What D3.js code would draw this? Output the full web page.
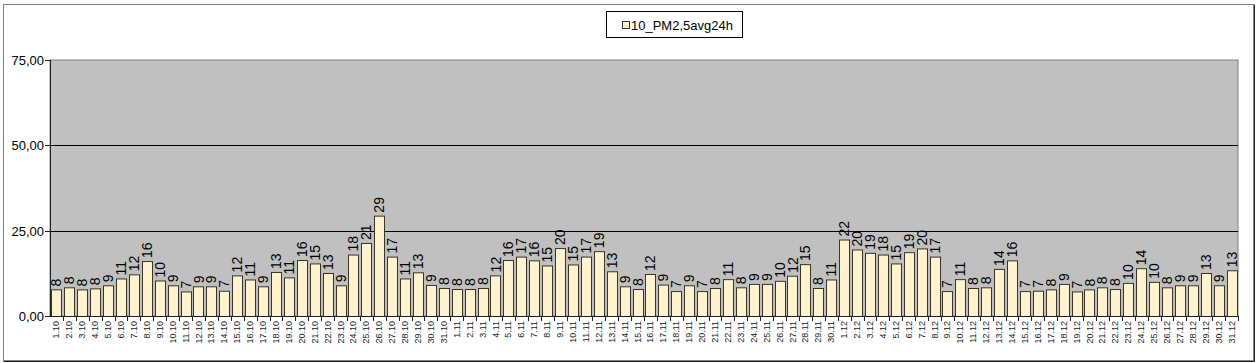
<!DOCTYPE html>
<html>
<head>
<meta charset="utf-8">
<script src="https://cdn.jsdelivr.net/npm/d3@7"></script>
<style>
  body { margin: 0; background: #fff; }
  svg text { font-family: "Liberation Sans", Arial, sans-serif; }
</style>
</head>
<body>
<div id="chart"></div>
<script>
// daily 24h average PM2.5, Oct 1 - Dec 31
const days = [
  "1.10","2.10","3.10","4.10","5.10","6.10","7.10","8.10","9.10","10.10",
  "11.10","12.10","13.10","14.10","15.10","16.10","17.10","18.10","19.10","20.10",
  "21.10","22.10","23.10","24.10","25.10","26.10","27.10","28.10","29.10","30.10","31.10",
  "1.11","2.11","3.11","4.11","5.11","6.11","7.11","8.11","9.11","10.11",
  "11.11","12.11","13.11","14.11","15.11","16.11","17.11","18.11","19.11","20.11",
  "21.11","22.11","23.11","24.11","25.11","26.11","27.11","28.11","29.11","30.11",
  "1.12","2.12","3.12","4.12","5.12","6.12","7.12","8.12","9.12","10.12",
  "11.12","12.12","13.12","14.12","15.12","16.12","17.12","18.12","19.12","20.12",
  "21.12","22.12","23.12","24.12","25.12","26.12","27.12","28.12","29.12","30.12","31.12"
]
const pm25 = [
  7.8, 8.4, 7.8, 8.1, 9.0, 11.0, 12.2, 16.1, 10.4, 9.0,
  7.2, 8.7, 8.7, 7.4, 11.9, 10.7, 8.7, 12.9, 11.3, 16.4,
  15.4, 12.6, 9.0, 18.0, 21.4, 29.4, 17.4, 11.0, 12.8, 9.1, 8.2,
  7.9, 7.9, 8.2, 11.9, 16.4, 17.4, 16.3, 14.8, 19.9, 15.1,
  17.4, 19.0, 13.1, 8.7, 7.9, 12.3, 9.2, 7.3, 9.0, 7.3,
  8.2, 10.8, 8.4, 9.4, 9.4, 10.3, 11.8, 15.2, 8.2, 10.7,
  22.4, 19.5, 18.5, 18.0, 15.4, 18.7, 19.8, 17.4, 7.3, 10.8,
  8.2, 8.4, 13.8, 16.3, 7.3, 7.4, 7.8, 9.4, 7.2, 7.8,
  8.4, 7.9, 9.7, 14.0, 10.0, 8.4, 9.0, 9.0, 12.6, 9.0, 13.4
]
const yTicks = [0, 25, 50, 75]
const seriesName = "10_PM2,5avg24h"

const W = 1258, H = 363
const margin = { left: 50, right: 20, top: 60, bottom: 47 }
const width = W - margin.left - margin.right,
    height = H - margin.top - margin.bottom

const svg = d3.select("#chart").append("svg")
    .attr("width", W)
    .attr("height", H)

// outer chart frame
svg.append("rect")
    .attr("x", 3.5).attr("y", 4.5)
    .attr("width", 1250).attr("height", 356)
    .attr("fill", "#fff")
    .attr("stroke", "#808080")
svg.append("path")
    .attr("d", "M1254.5,4.5V361.5H3.5")
    .attr("fill", "none")
    .attr("stroke", "#222")

const g = svg.append("g")
    .attr("transform", "translate(" + margin.left + "," + margin.top + ")")

let x = d3.scaleBand().domain(days).range([0, width]).paddingInner(0.22).paddingOuter(0.11)
let y = d3.scaleLinear().domain([0, 75]).range([height, 0])

// plot area
g.append("rect")
    .attr("width", width).attr("height", height)
    .attr("fill", "#c0c0c0")
    .attr("stroke", "#808080")

// gridlines
g.append("g")
    .selectAll("line")
    .data(yTicks.filter(d => d > 0 && d < 75))
    .enter().append("line")
    .attr("x1", 0).attr("x2", width)
    .attr("y1", d => Math.round(y(d)) + 0.5)
    .attr("y2", d => Math.round(y(d)) + 0.5)
    .attr("stroke", "#000")

// bars
g.append("g")
    .selectAll("rect")
    .data(pm25)
    .enter().append("rect")
    .attr("x", (d, i) => Math.round(x(days[i])) + 0.5)
    .attr("y", d => y(d) + 0.5)
    .attr("width", Math.round(x.bandwidth()))
    .attr("height", d => height - y(d))
    .attr("fill", "#fff3cf")
    .attr("stroke", "#3a3426")
    .attr("stroke-width", 1)

// value labels
g.append("g")
    .selectAll("text")
    .data(pm25)
    .enter().append("text")
    .attr("transform", (d, i) => "translate(" + (x(days[i]) + x.bandwidth() / 2 + 5) + "," + (y(d) - 3) + ") rotate(-90)")
    .attr("font-size", 14)
    .attr("fill", "#000")
    .text(d => Math.round(d))

// y axis
const yAxis = g.append("g")
yAxis.append("line")
    .attr("x1", 0.5).attr("x2", 0.5)
    .attr("y1", 0).attr("y2", height)
    .attr("stroke", "#222")
yAxis.selectAll("g")
    .data(yTicks)
    .enter().append("g")
    .attr("transform", d => "translate(0," + (Math.round(y(d)) + 0.5) + ")")
    .call(s => s.append("line").attr("x1", -5).attr("x2", 0).attr("stroke", "#222"))
    .call(s => s.append("text")
        .attr("x", -6).attr("dy", "0.35em")
        .attr("text-anchor", "end")
        .attr("font-size", 13)
        .text(d => d3.format(".2f")(d).replace(".", ",")))

// x axis
const xAxis = g.append("g").attr("transform", "translate(0," + height + ")")
xAxis.append("line")
    .attr("x1", 0).attr("x2", width)
    .attr("y1", 0.5).attr("y2", 0.5)
    .attr("stroke", "#222")
xAxis.selectAll(".tick")
    .data(days)
    .enter().append("line")
    .attr("x1", d => Math.round(x(d) + x.bandwidth() + x.step() * 0.11) + 0.5)
    .attr("x2", d => Math.round(x(d) + x.bandwidth() + x.step() * 0.11) + 0.5)
    .attr("y1", 0).attr("y2", 5)
    .attr("stroke", "#222")
xAxis.selectAll("text")
    .data(days)
    .enter().append("text")
    .attr("transform", d => "translate(" + (x(d) + x.bandwidth() / 2 + 3) + ",5) rotate(-90)")
    .attr("text-anchor", "end")
    .attr("font-size", 9)
    .attr("fill", "#222")
    .text(d => d)

// legend
const legend = svg.append("g").attr("transform", "translate(606,11)")
legend.append("rect")
    .attr("x", 0.5).attr("y", 0.5)
    .attr("width", 136).attr("height", 26)
    .attr("fill", "#fff")
    .attr("stroke", "#000")
legend.append("rect")
    .attr("x", 16.5).attr("y", 10.5)
    .attr("width", 7).attr("height", 7)
    .attr("fill", "#fff3cf")
    .attr("stroke", "#3a3426")
legend.append("text")
    .attr("x", 25).attr("y", 18.5)
    .attr("font-size", 13)
    .text(seriesName)
</script>
</body>
</html>
